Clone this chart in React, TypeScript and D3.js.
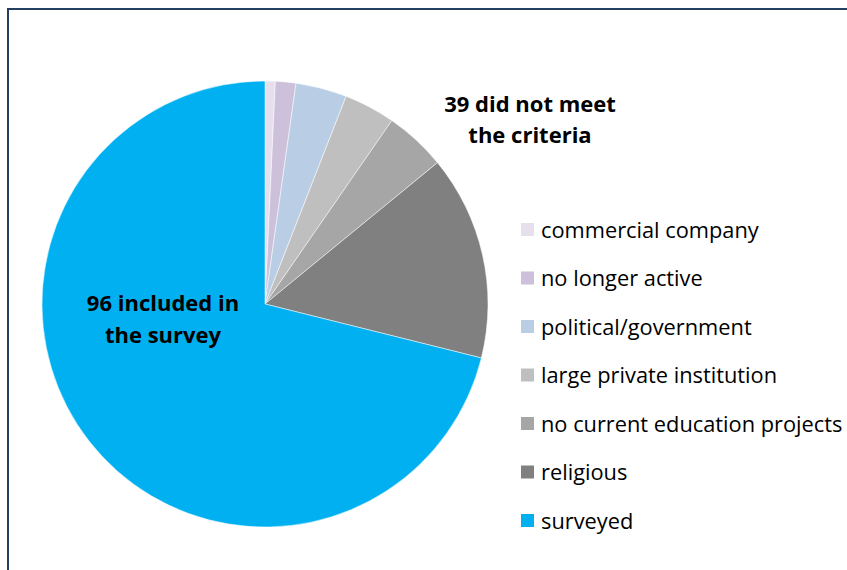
import React from "react";
import * as d3 from "d3";

const categories = [
  "commercial company",
  "no longer active",
  "political/government",
  "large private institution",
  "no current education projects",
  "religious",
  "surveyed",
];
const values = [1, 2, 5, 5, 6, 20, 96];
const colors = ["#e6e0ec", "#ccc0da", "#b9cde5", "#bfbfbf", "#a6a6a6", "#808080", "#00b0f0"];
const labelNotMet = ["39 did not meet", "the criteria"];
const labelSurveyed = ["96 included in", "the survey"];

const W = 847;
const H = 570;
const cx = 265;
const cy = 304;
const R = 223;
const FONT = "'Open Sans', 'Liberation Sans', sans-serif";

export default function App() {
  const data = categories.map((c, i) => ({ c, v: values[i], color: colors[i] }));
  const pie = d3.pie<any>().value((d) => d.v).sort(null);
  const arcs = pie(data);
  const arcGen = d3.arc<any>().innerRadius(0).outerRadius(R);
  const legendY = d3.scalePoint<string>().domain(categories).range([230, 521]);

  return (
    <svg width={W} height={H} style={{ position: "absolute", left: 0, top: 0, display: "block" }}>
      <rect x={0} y={0} width={W} height={H} fill="#ffffff" />
      <rect x={8} y={9} width={W + 20} height={H + 20} fill="none" stroke="#243f60" strokeWidth={2} />
      <g transform={`translate(${cx},${cy})`}>
        {arcs.map((a, i) => (
          <path key={i} d={arcGen(a) as string} fill={a.data.color} stroke="#ffffff" strokeWidth={0.5} />
        ))}
      </g>
      <g fontFamily={FONT} fontWeight="bold" fontSize={22} fill="#000" textAnchor="middle">
        {labelNotMet.map((t, i) => (
          <text key={i} x={530} y={112 + i * 31}>{t}</text>
        ))}
        {labelSurveyed.map((t, i) => (
          <text key={i} x={163} y={311 + i * 32}>{t}</text>
        ))}
      </g>
      <g fontFamily={FONT} fontSize={21.8} fill="#000">
        {categories.map((c, i) => (
          <g key={c} transform={`translate(521,${legendY(c)})`}>
            <rect x={0} y={-7} width={13} height={13} fill={colors[i]} />
            <text x={20} y={7.5}>{c}</text>
          </g>
        ))}
      </g>
    </svg>
  );
}
